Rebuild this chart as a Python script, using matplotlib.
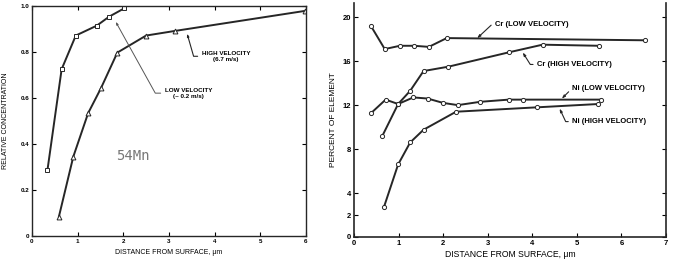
import matplotlib
matplotlib.use("Agg")
import matplotlib.pyplot as plt

plt.rcParams['font.family'] = ['Liberation Sans', 'DejaVu Sans']
plt.rcParams['font.weight'] = 'bold'

# ---- Left panel: 54Mn relative concentration ----
mn_low_x = [0.34, 0.65, 0.96, 1.42, 1.69, 2.02]
mn_low_y = [0.287, 0.724, 0.870, 0.913, 0.952, 0.988]
mn_high_x = [0.59, 0.905, 1.23, 1.51, 1.87, 2.50, 3.13, 5.98]
mn_high_y = [0.084, 0.344, 0.533, 0.641, 0.796, 0.870, 0.890, 0.977]
left_xticks = [0, 1, 2, 3, 4, 5, 6]
left_yticks = [0, 0.2, 0.4, 0.6, 0.8, 1.0]
left_yticklabels = ['0', '0.2', '0.4', '0.6', '0.8', '1.0']

# ---- Right panel: Cr / Ni percent ----
cr_low_x = [0.38, 0.69, 1.03, 1.35, 1.68, 2.08, 6.52]
cr_low_y = [19.2, 17.1, 17.4, 17.4, 17.3, 18.1, 17.9]
cr_high_x = [0.63, 0.99, 1.26, 1.56, 2.12, 3.47, 4.23, 5.50]
cr_high_y = [9.15, 12.1, 13.3, 15.1, 15.5, 16.8, 17.5, 17.4]
ni_low_x = [0.39, 0.71, 0.99, 1.33, 1.65, 2.00, 2.33, 2.83, 3.47, 3.79, 5.54]
ni_low_y = [11.3, 12.5, 12.1, 12.7, 12.6, 12.2, 12.0, 12.3, 12.5, 12.5, 12.5]
ni_high_x = [0.67, 0.99, 1.26, 1.56, 2.29, 4.11, 5.48]
ni_high_y = [2.7, 6.6, 8.6, 9.76, 11.4, 11.8, 12.1]
right_xticks = [0, 1, 2, 3, 4, 5, 6, 7]
right_yticks = [0, 2, 4, 8, 12, 16, 20]

LC = '#262626'
fig = plt.figure(figsize=(6.73, 2.63), dpi=100)

ax1 = fig.add_axes([0.0475, 0.1027, 0.407, 0.876])
ax1.plot(mn_low_x, mn_low_y, color=LC, lw=1.4, marker='s', ms=3,
         mfc='white', mec=LC, mew=0.7)
ax1.plot(mn_high_x, mn_high_y, color=LC, lw=1.4, marker='^', ms=3.5,
         mfc='white', mec=LC, mew=0.7)
ax1.set_xlim(0, 6)
ax1.set_ylim(0, 1.0)
ax1.set_xticks(left_xticks)
ax1.set_yticks(left_yticks)
ax1.set_yticklabels(left_yticklabels)
ax1.tick_params(direction='in', top=True, right=True, labelsize=4.5,
                length=3, width=0.8, pad=2)
for s in ax1.spines.values():
    s.set_linewidth(1.0)
    s.set_color(LC)
ax1.set_xlabel('DISTANCE FROM SURFACE, \u03bcm', fontsize=5, labelpad=4)
ax1.set_ylabel('RELATIVE CONCENTRATION', fontsize=5, labelpad=8)
ax1.text(1.85, 0.33, '54Mn', fontsize=10, color='#777777',
         family='DejaVu Sans Mono', weight='normal')

arrow_kw = dict(arrowstyle='-|>,head_length=0.35,head_width=0.12', color=LC,
                lw=0.8, shrinkA=1, shrinkB=1, relpos=(0, 0.5))
ax1.annotate('HIGH VELOCITY\n(6.7 m/s)', xy=(3.39, 0.884), xytext=(3.72, 0.78),
             fontsize=4.5, ha='left', va='center', multialignment='center',
             arrowprops=dict(connectionstyle='angle,angleA=0,angleB=-74,rad=0',
                             **arrow_kw))
ax1.annotate('LOW VELOCITY\n(~ 0.2 m/s)', xy=(1.82, 0.935), xytext=(2.91, 0.62),
             fontsize=4.5, ha='left', va='center', multialignment='center',
             arrowprops=dict(connectionstyle='angle,angleA=0,angleB=-61,rad=0',
                             **dict(arrow_kw, color='#555555', lw=0.7)))

ax2 = fig.add_axes([0.526, 0.0989, 0.4636, 0.890])
for xs, ys in [(cr_low_x, cr_low_y), (cr_high_x, cr_high_y),
               (ni_low_x, ni_low_y), (ni_high_x, ni_high_y)]:
    ax2.plot(xs, ys, color=LC, lw=1.4, marker='o', ms=3,
             mfc='white', mec=LC, mew=0.7)
ax2.set_xlim(0, 7)
ax2.set_ylim(0, 21.3)
ax2.set_xticks(right_xticks)
ax2.set_yticks(right_yticks)
ax2.spines['top'].set_visible(False)
for s in ['left', 'right', 'bottom']:
    ax2.spines[s].set_linewidth(1.2)
    ax2.spines[s].set_color(LC)
ax2.tick_params(direction='in', right=True, labelsize=5.5, length=3,
                width=0.8, pad=2)
ax2.set_xlabel('DISTANCE FROM SURFACE, \u03bcm', fontsize=6.2, labelpad=2)
ax2.set_ylabel('PERCENT OF ELEMENT', fontsize=6, labelpad=4)

ann = [
    ('Cr (LOW VELOCITY)', (2.74, 18.0), (3.17, 19.3), 43),
    ('Cr (HIGH VELOCITY)', (3.77, 16.9), (4.11, 15.7), -58),
    ('Ni (LOW VELOCITY)', (4.64, 12.5), (4.90, 13.5), 45),
    ('Ni (HIGH VELOCITY)', (4.60, 11.8), (4.90, 10.5), -65),
]
for label, tip, txt, angB in ann:
    ax2.annotate(label, xy=tip, xytext=txt, fontsize=5.5, ha='left', va='center',
                 arrowprops=dict(connectionstyle=f'angle,angleA=0,angleB={angB},rad=0',
                                 **arrow_kw))

fig.savefig('out.png', dpi=100)
